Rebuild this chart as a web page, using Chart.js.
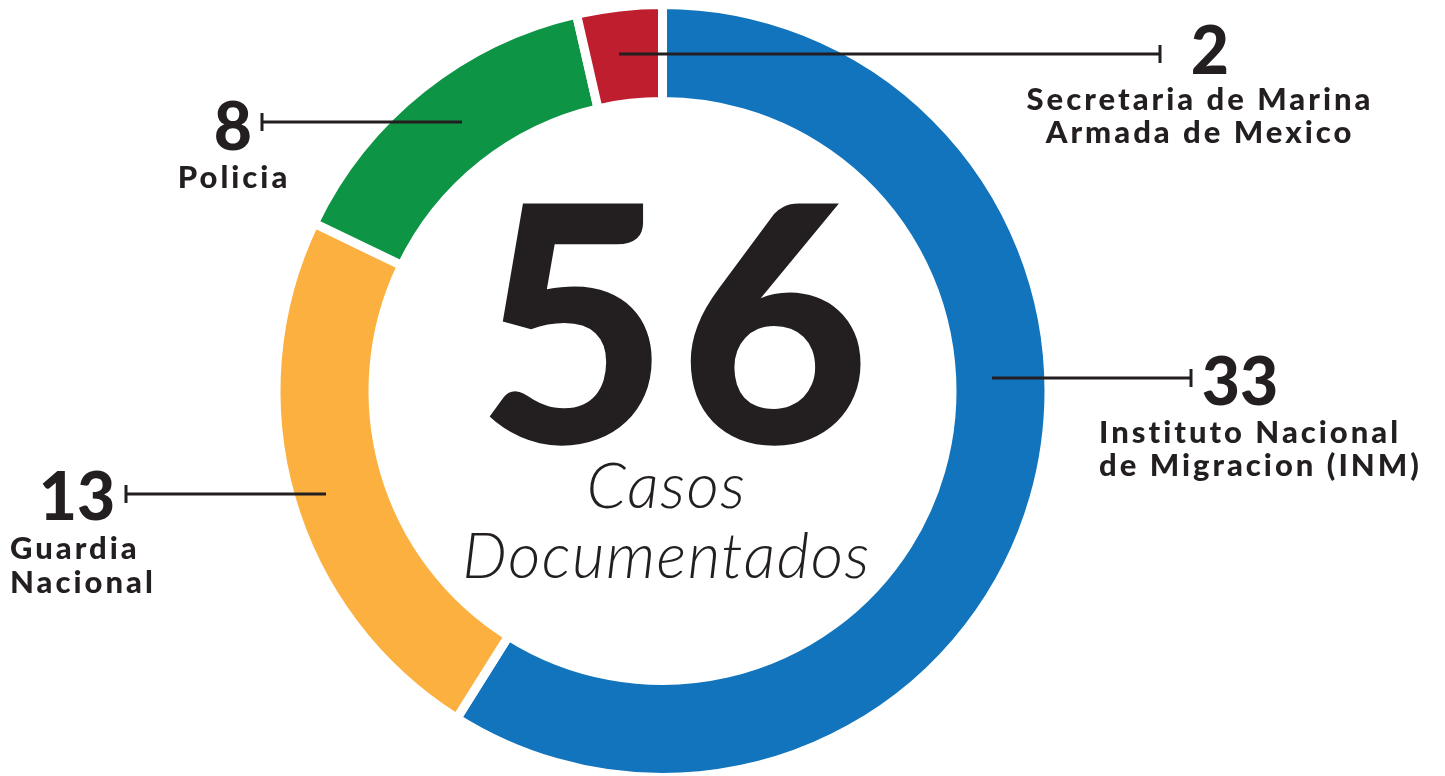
<!DOCTYPE html>
<html>
<head>
<meta charset="utf-8">
<script src="https://cdn.jsdelivr.net/npm/chart.js@4.4.1/dist/chart.umd.min.js"></script>
<style>
  html, body { margin: 0; padding: 0; background: #fff; overflow: hidden; }
  #wrap { position: absolute; left: 0; top: 0; width: 1445px; height: 800px; }
</style>
</head>
<body>
<div id="wrap"><canvas id="casesChart" width="1445" height="800"></canvas></div>
<script>
// Cases by institution
const categories = ['Instituto Nacional de Migracion (INM)', 'Guardia Nacional', 'Policia', 'Secretaria de Marina Armada de Mexico'];
const caseCounts = [33, 13, 8, 2];
const sliceColors = ['#1174bc', '#fbb040', '#0e9445', '#be1e2d'];
const labelLines = [
    ['Instituto Nacional', 'de Migracion (INM)'],
    ['Guardia', 'Nacional'],
    ['Policia'],
    ['Secretaria de Marina', 'Armada de Mexico']
];
const centerCaption = ['Casos', 'Documentados'];

const INK = '#231f20';

// Leader line + label placement for each slice (same order as data)
const callouts = [
    { x1: 992, x2: 1191, y: 378, numX: 1240, numY: 405, textX: 1099, textY: 443, align: 'left', lh: 33 },
    { x1: 326, x2: 126, y: 494, numX: 77, numY: 520, textX: 10, textY: 559, align: 'left', lh: 34 },
    { x1: 462, x2: 262, y: 122, numX: 233, numY: 150, textX: 234, textY: 188, align: 'center', lh: 33 },
    { x1: 619, x2: 1160, y: 54, numX: 1210, numY: 74, textX: 1200, textY: 110, align: 'center', lh: 33 }
];

const calloutPlugin = {
    id: 'callouts',
    afterDraw(chart) {
        const ctx = chart.ctx;
        const arc = chart.getDatasetMeta(0).data[0];
        const cx = arc.x, cy = arc.y;
        ctx.save();

        // leader lines
        ctx.strokeStyle = INK;
        ctx.lineWidth = 3;
        callouts.forEach(c => {
            ctx.beginPath();
            ctx.moveTo(c.x1, c.y);
            ctx.lineTo(c.x2, c.y);
            ctx.stroke();
            ctx.beginPath();
            ctx.moveTo(c.x2, c.y - 9);
            ctx.lineTo(c.x2, c.y + 9);
            ctx.stroke();
        });

        ctx.fillStyle = INK;
        ctx.textBaseline = 'alphabetic';
        callouts.forEach((c, i) => {
            ctx.textAlign = 'center';
            ctx.letterSpacing = '0px';
            ctx.font = '900 66px Lato';
            ctx.fillText(String(caseCounts[i]), c.numX, c.numY);
            ctx.textAlign = c.align;
            ctx.letterSpacing = '3px';
            ctx.font = '900 31px Lato';
            labelLines[i].forEach((line, j) => {
                ctx.fillText(line, c.textX, c.textY + j * c.lh);
            });
        });

        // total in the middle
        const total = caseCounts.reduce((a, b) => a + b, 0);
        ctx.textAlign = 'center';
        ctx.letterSpacing = '10px';
        ctx.font = '900 330px Lato';
        ctx.fillText(String(total), cx + 16, cy + 52);
        ctx.letterSpacing = '1.5px';
        ctx.font = 'italic 300 63px Lato';
        ctx.fillText(centerCaption[0], cx + 4, cy + 117);
        ctx.fillText(centerCaption[1], cx + 4, cy + 187);
        ctx.restore();
    }
};

new Chart(document.getElementById('casesChart').getContext('2d'), {
    type: 'doughnut',
    data: {
        labels: categories,
        datasets: [{
            data: caseCounts,
            backgroundColor: sliceColors,
            borderColor: '#ffffff',
            borderWidth: 9,
            hoverOffset: 0
        }]
    },
    options: {
        responsive: false,
        animation: false,
        devicePixelRatio: 1,
        events: [],
        radius: 386.5,
        cutout: '74.9%',
        layout: { padding: { left: 0, right: 120, top: 0, bottom: 18 } },
        plugins: {
            legend: { display: false },
            tooltip: { enabled: false }
        }
    },
    plugins: [calloutPlugin]
});
</script>
</body>
</html>
